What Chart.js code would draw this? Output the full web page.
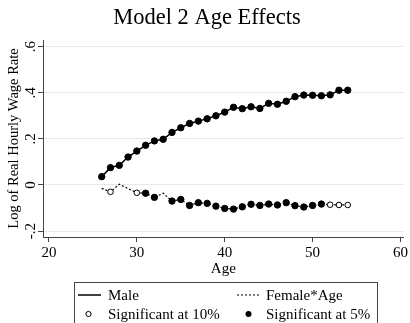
<!DOCTYPE html>
<html>
<head>
<meta charset="utf-8">
<script src="https://cdn.jsdelivr.net/npm/chart.js@4.4.0/dist/chart.umd.min.js"></script>
<style>
  html, body { margin: 0; padding: 0; background: #fff; }
  #wrap { width: 410px; height: 323px; position: relative; }
</style>
</head>
<body>
<div id="wrap"><canvas id="myc" width="410" height="323"></canvas></div>
<script>
// ages on the x axis
var ages = [26,27,28,29,30,31,32,33,34,35,36,37,38,39,40,41,42,43,44,45,46,47,48,49,50,51,52,53,54];
// male age profile
var maleVals = [0.036,0.075,0.085,0.121,0.147,0.172,0.191,0.198,0.228,0.248,0.267,0.277,0.287,0.300,0.316,
                0.337,0.331,0.339,0.332,0.354,0.350,0.363,0.383,0.390,0.389,0.387,0.391,0.411,0.411];
// female*age interaction
var femaleVals = [-0.015,-0.030,0.003,-0.016,-0.034,-0.036,-0.054,-0.036,-0.070,-0.063,-0.089,-0.077,-0.080,-0.092,-0.102,
                  -0.105,-0.095,-0.084,-0.089,-0.083,-0.087,-0.077,-0.090,-0.096,-0.089,-0.083,-0.086,-0.087,-0.087];
// significance: 0 = none, 1 = 10%, 2 = 5%
var maleSig = [2,2,2,2,2,2,2,2,2,2,2,2,2,2,2,2,2,2,2,2,2,2,2,2,2,2,2,2,2];
var femaleSig = [0,1,0,0,1,2,2,0,2,2,2,2,2,2,2,2,2,2,2,2,2,2,2,2,2,2,1,1,1];

var xTicks = [20,30,40,50,60];
var yTicks = [-0.2,0,0.2,0.4,0.6];
var yTickLabels = ["-.2","0",".2",".4",".6"];

var titleText = "Model 2 Age Effects";
var xTitle = "Age";
var yTitle = "Log of Real Hourly Wage Rate";
var legendLabels = ["Male","Female*Age","Significant at 10%","Significant at 5%"];

var serif = "'Liberation Serif', 'Times New Roman', serif";

function pts(vals){
    return ages.map(function(a,i){ return {x:a, y:vals[i]} });
}
function radii(sig){ return sig.map(function(s){ return s==0 ? 0 : (s==1 ? 2.8 : 3.2) }) }
function fills(sig){ return sig.map(function(s){ return s==1 ? '#fff' : '#000' }) }

// title, y tick labels, axis titles and the boxed legend
var extras = {
    id: 'extras',
    afterDraw: function(chart){
        var c = chart.ctx;
        var ys = chart.scales.y;
        var area = chart.chartArea;
        c.save();
        c.fillStyle = '#000';
        // title
        c.font = "22.5px " + serif;
        c.textAlign = 'center';
        c.textBaseline = 'alphabetic';
        c.fillText(titleText, 207, 24);
        // x title
        c.font = "15px " + serif;
        c.fillText(xTitle, (area.left+area.right)/2, 273);
        // y tick labels, rotated
        for (var i=0;i<yTicks.length;i++){
            var py = ys.getPixelForValue(yTicks[i]);
            c.save();
            c.translate(35, py);
            c.rotate(-Math.PI/2);
            c.textAlign = 'center';
            c.textBaseline = 'alphabetic';
            c.fillText(yTickLabels[i], 0, 0);
            c.restore();
        }
        // y title
        c.save();
        c.font = "14.5px " + serif;
        c.translate(18, (area.top+area.bottom)/2);
        c.rotate(-Math.PI/2);
        c.textAlign = 'center';
        c.fillText(yTitle, 0, 0);
        c.restore();

        // legend box
        c.strokeStyle = '#444';
        c.lineWidth = 1;
        c.strokeRect(74.5, 282.5, 303, 45);
        c.font = "15px " + serif;
        c.textAlign = 'left';
        c.textBaseline = 'middle';
        // row 1
        c.strokeStyle = '#000';
        c.lineWidth = 1.5;
        c.beginPath(); c.moveTo(78,295); c.lineTo(101,295); c.stroke();
        c.fillText(legendLabels[0], 108, 296);
        c.lineWidth = 1;
        c.setLineDash([2,2]);
        c.beginPath(); c.moveTo(237,295); c.lineTo(259,295); c.stroke();
        c.setLineDash([]);
        c.fillText(legendLabels[1], 266, 296);
        // row 2
        c.beginPath(); c.arc(88.5,314,2.6,0,Math.PI*2);
        c.fillStyle = '#fff'; c.fill(); c.stroke();
        c.fillStyle = '#000';
        c.fillText(legendLabels[2], 108, 315);
        c.beginPath(); c.arc(248.5,314,3,0,Math.PI*2); c.fill();
        c.fillText(legendLabels[3], 266, 315);
        c.restore();
    }
};

var data = {
    datasets: [{
        label: legendLabels[0],
        data: pts(maleVals),
        borderColor: '#000',
        borderWidth: 1.5,
        pointRadius: radii(maleSig),
        pointBackgroundColor: fills(maleSig),
        pointBorderColor: '#000',
        pointBorderWidth: 1,
        tension: 0
    },{
        label: legendLabels[1],
        data: pts(femaleVals),
        borderColor: '#000',
        borderWidth: 1.2,
        borderDash: [2,2],
        pointRadius: radii(femaleSig),
        pointBackgroundColor: fills(femaleSig),
        pointBorderColor: '#000',
        pointBorderWidth: 1,
        tension: 0
    }]
};

var config = {
    type: 'line',
    data: data,
    options: {
        responsive: false,
        animation: false,
        layout: { padding: { top: 40, left: 0, right: 4, bottom: 48 } },
        plugins: { legend: { display: false }, title: { display: false }, tooltip: { enabled: false } },
        scales: {
            x: {
                type: 'linear',
                min: 19.32,
                max: 60.37,
                afterBuildTicks: function(s){ s.ticks = xTicks.map(function(v){ return {value:v} }) },
                afterFit: function(s){ s.height = 38 },
                grid: { drawOnChartArea: false, drawTicks: true, tickLength: 5, tickColor: '#444' },
                border: { color: '#444', width: 1 },
                ticks: { color: '#000', padding: 2, font: { family: serif, size: 15 } }
            },
            y: {
                type: 'linear',
                min: -0.226,
                max: 0.629,
                afterBuildTicks: function(s){ s.ticks = yTicks.map(function(v){ return {value:v} }) },
                afterFit: function(s){ s.width = 43 },
                grid: { color: '#e8e8e8', lineWidth: 1, drawTicks: true, tickLength: 5, tickColor: '#444' },
                border: { color: '#444', width: 1 },
                ticks: { display: false }
            }
        }
    },
    plugins: [extras]
};

const ctx = document.getElementById('myc').getContext('2d');
var myChart = new Chart(ctx, config);
</script>
</body>
</html>
